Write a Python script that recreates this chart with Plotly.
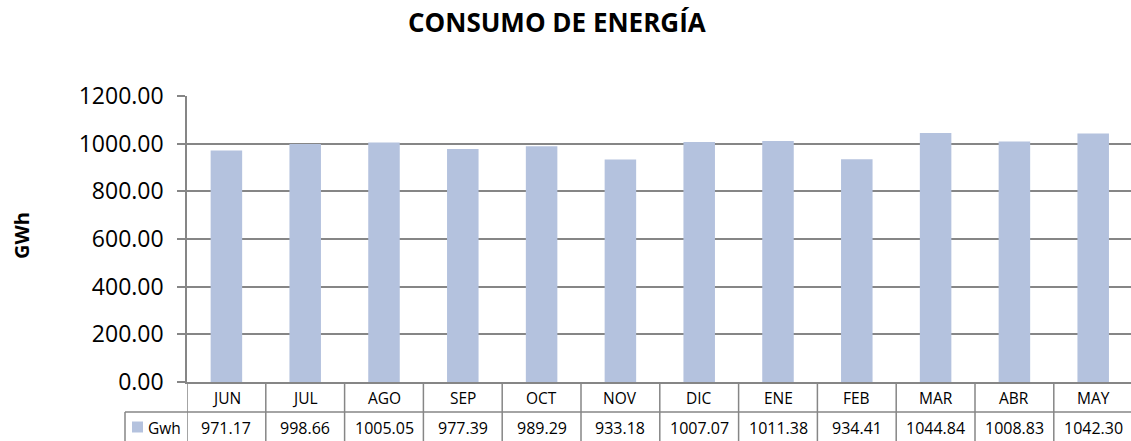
import plotly.graph_objects as go

title_text = "CONSUMO DE ENERGÍA"
y_title = "GWh"
series_name = "Gwh"
categories = ["JUN", "JUL", "AGO", "SEP", "OCT", "NOV", "DIC", "ENE", "FEB", "MAR", "ABR", "MAY"]
values = [971.17, 998.66, 1005.05, 977.39, 989.29, 933.18, 1007.07, 1011.38, 934.41, 1044.84, 1008.83, 1042.30]

BAR = "#B4C2DE"
GRID = "#868686"
FONT = "Open Sans"

W, H = 1131, 441
ml, mr, mt, mb = 187, 0, 96, 59
plot_w = W - ml - mr
plot_h = H - mt - mb
col_w = 78.8  # px per category
n = len(categories)
x_hi = -0.5 + plot_w / col_w

def py(px_below):
    # pixel offset below the x axis -> paper y
    return -px_below / plot_h

def pxx(px):
    return (px - ml) / plot_w

def pyy(px):
    # absolute pixel y (from top) -> paper y
    return (H - mb - px) / plot_h

fig = go.Figure()
fig.add_trace(go.Bar(
    x=list(range(n)), y=values, name=series_name,
    marker=dict(color=BAR, line=dict(width=0)),
    width=0.4, hoverinfo="skip",
))

row1 = 30.0
row2_bottom = 70.0
shapes = []
shapes.append(dict(type="line", xref="paper", yref="paper", x0=pxx(125), x1=1.0,
                   y0=py(row1), y1=py(row1), line=dict(color=GRID, width=1.5)))
for k in range(n + 1):
    xv = k - 0.5
    if xv > x_hi:
        continue
    shapes.append(dict(type="line", xref="x", yref="paper", x0=xv, x1=xv,
                       y0=0, y1=py(row2_bottom), line=dict(color=GRID, width=1.5)))
shapes.append(dict(type="line", xref="paper", yref="paper", x0=pxx(125), x1=pxx(125),
                   y0=py(row1), y1=py(row2_bottom), line=dict(color=GRID, width=1.5)))
shapes.append(dict(type="rect", xref="paper", yref="paper", x0=pxx(132), x1=pxx(143),
                   y0=py(39.5), y1=py(50.5), fillcolor=BAR, line=dict(width=0)))

annotations = []
for i, (c, v) in enumerate(zip(categories, values)):
    annotations.append(dict(x=i, y=py(16), xref="x", yref="paper", text=c, showarrow=False,
                            font=dict(family=FONT, size=15.5, color="#000000"), yanchor="middle"))
    annotations.append(dict(x=i, y=py(46), xref="x", yref="paper", text=f"{v:.2f}", showarrow=False,
                            font=dict(family=FONT, size=16, color="#000000"), yanchor="middle"))
annotations.append(dict(x=pxx(146), y=py(45.5), xref="paper", yref="paper", text=series_name,
                        showarrow=False, xanchor="left", yanchor="middle",
                        font=dict(family=FONT, size=15.5, color="#000000")))
annotations.append(dict(x=pxx(21), y=pyy(236), xref="paper", yref="paper",
                        text=f"<b>{y_title}</b>", showarrow=False, textangle=-90,
                        xanchor="center", yanchor="middle",
                        font=dict(family=FONT, size=20, color="#000000")))
annotations.append(dict(x=pxx(557), y=pyy(22), xref="paper", yref="paper",
                        text=f"<b>{title_text}</b>", showarrow=False,
                        xanchor="center", yanchor="middle",
                        font=dict(family=FONT, size=26, color="#000000")))

fig.update_layout(
    width=W, height=H,
    margin=dict(l=ml, r=mr, t=mt, b=mb, pad=0),
    paper_bgcolor="white", plot_bgcolor="white",
    showlegend=False,
    shapes=shapes, annotations=annotations,
    xaxis=dict(range=[-0.5, x_hi], showticklabels=False, ticks="", showgrid=False,
               zeroline=False, showline=True, linecolor=GRID, linewidth=1.5, fixedrange=True),
    yaxis=dict(range=[0, 1200], dtick=200, tickformat=".2f", ticks="outside", ticklen=8,
               tickcolor=GRID, tickwidth=1.5, showgrid=True, gridcolor=GRID, gridwidth=1.5,
               zeroline=False, showline=True, linecolor=GRID, linewidth=1.5,
               tickfont=dict(family=FONT, size=23, color="#000000"), ticklabelstandoff=9,
               fixedrange=True),
)

fig.write_html("out.html", config={"displayModeBar": False},
               post_script="document.body.style.margin='0';document.body.style.overflow='hidden';")
